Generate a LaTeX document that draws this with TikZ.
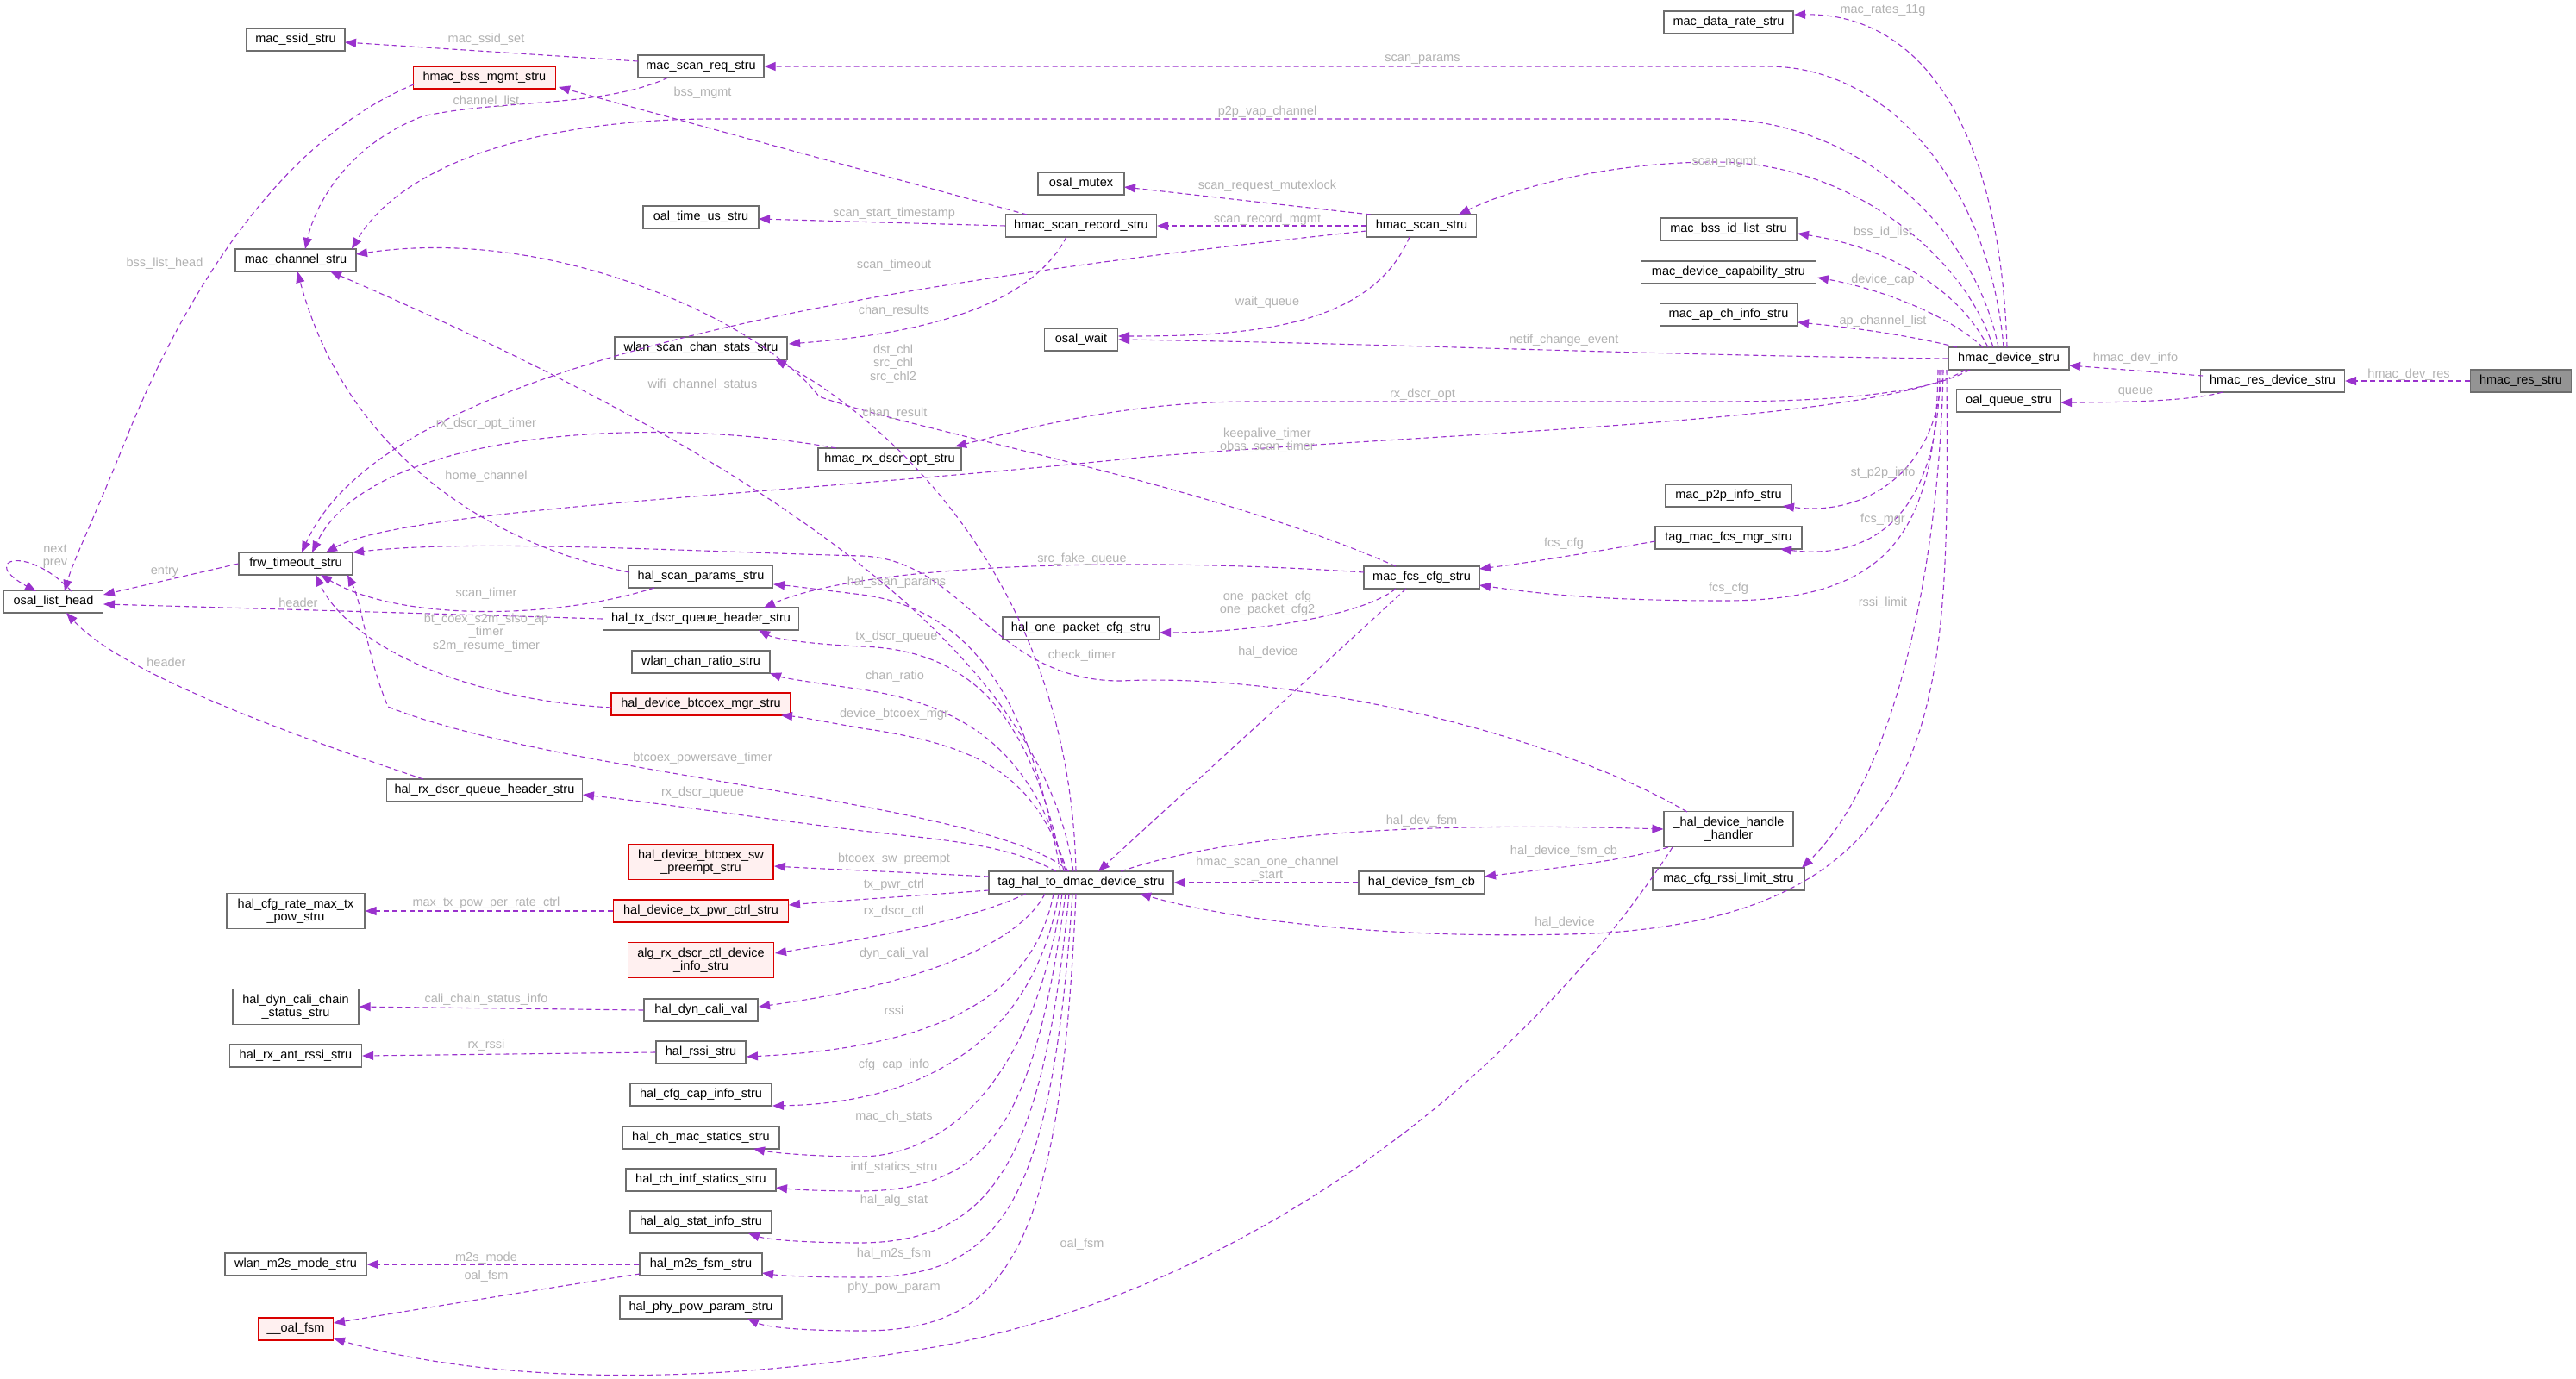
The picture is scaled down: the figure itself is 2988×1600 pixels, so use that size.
\documentclass[tikz,border=0pt]{standalone}
\usepackage{fontspec}
\setmainfont{Liberation Sans}
\usetikzlibrary{arrows.meta}
\definecolor{edgec}{RGB}{154,50,205}
\definecolor{lblc}{RGB}{178,178,178}
\definecolor{bord}{RGB}{110,110,110}
\newcommand\bxf{\fontsize{14.5}{15.5}\selectfont}
\begin{document}
\begin{tikzpicture}[x=1pt,y=-1pt,
 box/.style={draw=bord, fill=white, line width=1.2pt, font=\bxf, minimum height=26pt, inner xsep=6pt, inner ysep=2pt, align=center},
 rbox/.style={box, draw=red!85!black, fill=red!6},
 root/.style={box, fill=black!42},
 e/.style={draw=edgec, line width=1.1pt, dash pattern=on 6pt off 4pt, -{Triangle[length=13pt,width=10pt]}},
 lbl/.style={text=lblc, font=\bxf, inner sep=0pt, align=center}]
\useasboundingbox (0,0) rectangle (2988,1600);
\fill[white] (0,0) rectangle (2988,1600);
% nodes
\node[root,minimum width=117] (res) at (2924,442) {hmac\_res\_stru};
\node[box,minimum width=167] (resdev) at (2636,442) {hmac\_res\_device\_stru};
\node[box,minimum width=140] (hdev) at (2330,416) {hmac\_device\_stru};
\node[box,minimum width=121] (oq) at (2330,465) {oal\_queue\_stru};
\node[box,minimum width=150] (rate) at (2005,26) {mac\_data\_rate\_stru};
\node[box,minimum width=158] (bssid) at (2005,266) {mac\_bss\_id\_list\_stru};
\node[box,minimum width=203] (devcap) at (2005,316) {mac\_device\_capability\_stru};
\node[box,minimum width=159] (apch) at (2005,365) {mac\_ap\_ch\_info\_stru};
\node[box,minimum width=146] (p2p) at (2005,575) {mac\_p2p\_info\_stru};
\node[box,minimum width=170] (fcsmgr) at (2005,624) {tag\_mac\_fcs\_mgr\_stru};
\node[box,minimum width=150,minimum height=41] (handler) at (2005,962) {\_hal\_device\_handle\\\_handler};
\node[box,minimum width=176] (rssilim) at (2005,1020) {mac\_cfg\_rssi\_limit\_stru};
\node[box,minimum width=146] (scanreq) at (813,77) {mac\_scan\_req\_stru};
\node[box,minimum width=114] (ssid) at (343,46) {mac\_ssid\_stru};
\node[rbox,minimum width=165] (bssmgmt) at (562,90) {hmac\_bss\_mgmt\_stru};
\node[box,minimum width=140] (chan) at (343,302) {mac\_channel\_stru};
\node[box,minimum width=100] (mutex) at (1254,213) {osal\_mutex};
\node[box,minimum width=175] (rec) at (1254,262) {hmac\_scan\_record\_stru};
\node[box,minimum width=127] (hscan) at (1649,262) {hmac\_scan\_stru};
\node[box,minimum width=134] (timeus) at (813,252) {oal\_time\_us\_stru};
\node[box,minimum width=85] (wait) at (1254,394) {osal\_wait};
\node[box,minimum width=200] (wscs) at (813,404) {wlan\_scan\_chan\_stats\_stru};
\node[box,minimum width=166] (rxopt) at (1032,533) {hmac\_rx\_dscr\_opt\_stru};
\node[box,minimum width=132] (frw) at (343,654) {frw\_timeout\_stru};
\node[box,minimum width=115] (olh) at (62,698) {osal\_list\_head};
\node[box,minimum width=167] (hsp) at (813,669) {hal\_scan\_params\_stru};
\node[box,minimum width=227] (txq) at (813,718) {hal\_tx\_dscr\_queue\_header\_stru};
\node[box,minimum width=160] (ratio) at (813,768) {wlan\_chan\_ratio\_stru};
\node[rbox,minimum width=208] (btmgr) at (813,817) {hal\_device\_btcoex\_mgr\_stru};
\node[box,minimum width=227] (rxq) at (562,917) {hal\_rx\_dscr\_queue\_header\_stru};
\node[rbox,minimum width=168,minimum height=41] (swp) at (813,1000) {hal\_device\_btcoex\_sw\\\_preempt\_stru};
\node[box,minimum width=160,minimum height=41] (maxtx) at (343,1057) {hal\_cfg\_rate\_max\_tx\\\_pow\_stru};
\node[rbox,minimum width=203] (txpwr) at (813,1057) {hal\_device\_tx\_pwr\_ctrl\_stru};
\node[rbox,minimum width=169,minimum height=41] (algrx) at (813,1114) {alg\_rx\_dscr\_ctl\_device\\\_info\_stru};
\node[box,minimum width=146,minimum height=41] (calich) at (343,1168) {hal\_dyn\_cali\_chain\\\_status\_stru};
\node[box,minimum width=132] (dcv) at (813,1172) {hal\_dyn\_cali\_val};
\node[box,minimum width=153] (antrssi) at (343,1225) {hal\_rx\_ant\_rssi\_stru};
\node[box,minimum width=104] (rssi) at (813,1221) {hal\_rssi\_stru};
\node[box,minimum width=164] (capinfo) at (813,1270) {hal\_cfg\_cap\_info\_stru};
\node[box,minimum width=182] (chmac) at (813,1320) {hal\_ch\_mac\_statics\_stru};
\node[box,minimum width=174] (chintf) at (813,1369) {hal\_ch\_intf\_statics\_stru};
\node[box,minimum width=164] (algstat) at (813,1418) {hal\_alg\_stat\_info\_stru};
\node[box,minimum width=164] (m2smode) at (343,1467) {wlan\_m2s\_mode\_stru};
\node[box,minimum width=142] (m2sfsm) at (813,1467) {hal\_m2s\_fsm\_stru};
\node[box,minimum width=188] (phypow) at (813,1517) {hal\_phy\_pow\_param\_stru};
\node[rbox,minimum width=87] (oalfsm) at (343,1542) {\_\_oal\_fsm};
\node[box,minimum width=134] (fcscfg) at (1649,670) {mac\_fcs\_cfg\_stru};
\node[box,minimum width=182] (onepkt) at (1254,729) {hal\_one\_packet\_cfg\_stru};
\node[box,minimum width=214] (tag) at (1254,1024) {tag\_hal\_to\_dmac\_device\_stru};
\node[box,minimum width=146] (fsmcb) at (1649,1024) {hal\_device\_fsm\_cb};
% edges
\draw[e] (res.west) -- (resdev.east);
\draw[e] ([shift={(-81,-6)}]resdev.center) -- ([shift={(70,8)}]hdev.center);
\draw[e] ([shift={(-58,13)}]resdev.center) .. controls (2540,466) and (2450,467) .. ([shift={(60,2)}]oq.center);
\draw[e] ([shift={(-2,-13)}]hdev.center) .. controls (2320,150) and (2230,15) .. ([shift={(76,-9)}]rate.center);
\draw[e] ([shift={(-6,-13)}]hdev.center) .. controls (2310,230) and (2200,77) .. (2050,77) -- (scanreq.east);
\draw[e] ([shift={(-12,-13)}]hdev.center) .. controls (2290,260) and (2150,138) .. (1990,138) -- (820,138) .. controls (600,140) and (460,200) .. ([shift={(65,-13)}]chan.center);
\draw[e] ([shift={(-18,-13)}]hdev.center) .. controls (2280,300) and (2150,188) .. (1990,188) .. controls (1850,188) and (1740,225) .. ([shift={(43,-13)}]hscan.center);
\draw[e] ([shift={(-24,-13)}]hdev.center) .. controls (2270,330) and (2180,285) .. ([shift={(80,5)}]bssid.center);
\draw[e] ([shift={(-30,-13)}]hdev.center) .. controls (2260,365) and (2180,335) .. ([shift={(103,6)}]devcap.center);
\draw[e] ([shift={(-60,-13)}]hdev.center) .. controls (2220,390) and (2150,380) .. ([shift={(80,9)}]apch.center);
\draw[e] (hdev.west) .. controls (1900,412) and (1600,398) .. (wait.east);
\draw[e] ([shift={(-45,13)}]hdev.center) .. controls (2230,460) and (2100,466) .. (1990,466) -- (1450,466) .. controls (1300,466) and (1180,500) .. ([shift={(76,-15)}]rxopt.center);
\draw[e] ([shift={(-50,13)}]hdev.center) .. controls (2180,490) and (1700,500) .. (1330,530) .. controls (900,575) and (470,590) .. ([shift={(35,-13)}]frw.center);
\draw[e] ([shift={(-78,13)}]hdev.center) .. controls (2250,540) and (2170,600) .. ([shift={(63,12)}]p2p.center);
\draw[e] ([shift={(-80,13)}]hdev.center) .. controls (2250,600) and (2170,650) .. ([shift={(60,13)}]fcsmgr.center);
\draw[e] ([shift={(-82,13)}]hdev.center) .. controls (2245,620) and (2190,697) .. (2000,697) .. controls (1850,697) and (1780,688) .. ([shift={(67,9)}]fcscfg.center);
\draw[e] ([shift={(-76,13)}]hdev.center) .. controls (2250,650) and (2200,900) .. ([shift={(85,-13)}]rssilim.center);
\draw[e] ([shift={(-72,13)}]hdev.center) .. controls (2260,800) and (2270,1060) .. (1850,1083) .. controls (1600,1092) and (1420,1065) .. ([shift={(68,13)}]tag.center);
\draw[e] ([shift={(-85,4)}]fcsmgr.center) .. controls (1850,640) and (1780,652) .. ([shift={(67,-10)}]fcscfg.center);
\draw[e] ([shift={(-59,-13)}]hscan.center) -- ([shift={(50,4)}]mutex.center);
\draw[e] (hscan.west) -- (rec.east);
\draw[e] ([shift={(-14,13)}]hscan.center) .. controls (1590,380) and (1450,390) .. ([shift={(43,-4)}]wait.center);
\draw[e] ([shift={(-64,6)}]hscan.center) .. controls (1000,330) and (450,420) .. ([shift={(7,-13)}]frw.center);
\draw[e] (rec.west) -- ([shift={(67,2)}]timeus.center);
\draw[e] ([shift={(-63,-13)}]rec.center) -- ([shift={(86,11)}]bssmgmt.center);
\draw[e] ([shift={(-17,13)}]rec.center) .. controls (1200,345) and (1100,385) .. ([shift={(102,-5)}]wscs.center);
\draw[e] ([shift={(-82,8)}]bssmgmt.center) .. controls (330,160) and (220,330) .. (150,500) .. controls (110,600) and (85,650) .. ([shift={(13,-12)}]olh.center);
\draw[e] ([shift={(-73,-6)}]scanreq.center) -- ([shift={(57,3)}]ssid.center);
\draw[e] ([shift={(-38,13)}]scanreq.center) .. controls (700,125) and (580,115) .. (490,135) .. controls (400,170) and (365,240) .. ([shift={(11,-13)}]chan.center);
\draw[e] ([shift={(-62,-13)}]rxopt.center) .. controls (750,480) and (430,500) .. ([shift={(19,-13)}]frw.center);
\draw[e] ([shift={(-30,-13)}]fcscfg.center) .. controls (1400,560) and (1060,500) .. (950,460) .. controls (890,380) and (650,260) .. ([shift={(70,-7)}]chan.center);
\draw[e] ([shift={(-67,-6)}]fcscfg.center) .. controls (1300,645) and (1000,655) .. ([shift={(73,-13)}]txq.center);
\draw[e] ([shift={(-30,13)}]fcscfg.center) .. controls (1580,715) and (1450,734) .. ([shift={(91,5)}]onepkt.center);
\draw[e] ([shift={(-18,13)}]fcscfg.center) -- ([shift={(20,-13)}]tag.center);
\draw[e] (frw.west) -- ([shift={(58,-8)}]olh.center);
\draw[e] ([shift={(21,-12)}]olh.center) .. controls (30,630) and (-25,650) .. ([shift={(-20,-12)}]olh.center);
\draw[e] (txq.west) .. controls (500,712) and (300,706) .. ([shift={(58,3)}]olh.center);
\draw[e] ([shift={(-71,-13)}]rxq.center) .. controls (330,850) and (140,780) .. ([shift={(15,13)}]olh.center);
\draw[e] ([shift={(-83,-5)}]hsp.center) .. controls (560,630) and (400,520) .. ([shift={(2,13)}]chan.center);
\draw[e] ([shift={(-54,13)}]hsp.center) .. controls (640,720) and (460,720) .. ([shift={(29,13)}]frw.center);
\draw[e] ([shift={(-104,4)}]btmgr.center) .. controls (520,810) and (400,740) .. ([shift={(23,13)}]frw.center);
\draw[e] ([shift={(-14,-13)}]tag.center) .. controls (1150,930) and (650,900) .. (450,820) .. controls (425,760) and (420,700) .. ([shift={(60,13)}]frw.center);
\draw[e] ([shift={(-9,-13)}]tag.center) .. controls (1210,780) and (950,560) .. ([shift={(40,13)}]chan.center);
\draw[e] ([shift={(-6,-13)}]tag.center) .. controls (1240,650) and (1000,470) .. ([shift={(86,13)}]wscs.center);
\draw[e] ([shift={(-48,-20)}]handler.center) .. controls (1800,850) and (1500,780) .. (1300,790) .. controls (1150,790) and (1120,650) .. (1000,645) .. controls (800,640) and (550,625) .. ([shift={(66,-13)}]frw.center);
\draw[e] ([shift={(-24,-13)}]tag.center) .. controls (1200,850) and (1150,710) .. (1000,690) .. controls (950,684) and (920,680) .. ([shift={(84,9)}]hsp.center);
\draw[e] ([shift={(-20,-13)}]tag.center) .. controls (1200,860) and (1150,755) .. (1000,750) .. controls (950,748) and (900,742) .. ([shift={(67,13)}]txq.center);
\draw[e] ([shift={(-18,-13)}]tag.center) .. controls (1200,880) and (1130,820) .. (1000,800) .. controls (950,793) and (910,787) .. ([shift={(80,13)}]ratio.center);
\draw[e] ([shift={(-16,-13)}]tag.center) .. controls (1200,900) and (1140,865) .. (1000,845) .. controls (960,838) and (930,832) .. ([shift={(93,13)}]btmgr.center);
\draw[e] ([shift={(-29,-13)}]tag.center) .. controls (1170,980) and (1100,975) .. (1000,964) .. controls (850,945) and (750,930) .. ([shift={(114,5)}]rxq.center);
\draw[e] ([shift={(-107,-7)}]tag.center) .. controls (1050,1012) and (950,1008) .. ([shift={(85,5)}]swp.center);
\draw[e] ([shift={(-107,9)}]tag.center) .. controls (1050,1040) and (950,1047) .. ([shift={(102,-7)}]txpwr.center);
\draw[e] ([shift={(-64,13)}]tag.center) .. controls (1120,1070) and (1000,1090) .. ([shift={(86,-8)}]algrx.center);
\draw[e] ([shift={(-42,13)}]tag.center) .. controls (1180,1100) and (1050,1145) .. ([shift={(67,-4)}]dcv.center);
\draw[e] ([shift={(-32,13)}]tag.center) .. controls (1200,1150) and (1100,1215) .. ([shift={(53,5)}]rssi.center);
\draw[e] ([shift={(-26,13)}]tag.center) .. controls (1200,1200) and (1080,1280) .. ([shift={(83,13)}]capinfo.center);
\draw[e] ([shift={(-22,13)}]tag.center) .. controls (1200,1250) and (1100,1340) .. (1000,1342) .. controls (950,1342) and (900,1338) .. ([shift={(61,13)}]chmac.center);
\draw[e] ([shift={(-18,13)}]tag.center) .. controls (1200,1300) and (1150,1380) .. (1000,1382) .. controls (950,1382) and (920,1380) .. ([shift={(87,9)}]chintf.center);
\draw[e] ([shift={(-14,13)}]tag.center) .. controls (1210,1350) and (1150,1440) .. (1000,1442) .. controls (930,1442) and (890,1438) .. ([shift={(55,13)}]algstat.center);
\draw[e] ([shift={(-10,13)}]tag.center) .. controls (1220,1400) and (1160,1482) .. (1000,1482) .. controls (940,1482) and (905,1480) .. ([shift={(71,10)}]m2sfsm.center);
\draw[e] ([shift={(-6,13)}]tag.center) .. controls (1230,1450) and (1170,1544) .. (1000,1544) .. controls (930,1544) and (890,1540) .. ([shift={(54,13)}]phypow.center);
\draw[e] ([shift={(46,-13)}]tag.center) .. controls (1450,960) and (1700,955) .. (handler.west);
\draw[e] ([shift={(-70,21)}]handler.center) .. controls (1880,1000) and (1780,1010) .. ([shift={(73,-7)}]fsmcb.center);
\draw[e] (fsmcb.west) -- (tag.east);
\draw[e] ([shift={(-65,21)}]handler.center) .. controls (1800,1200) and (1500,1480) .. (1100,1560) .. controls (800,1615) and (550,1600) .. ([shift={(44,11)}]oalfsm.center);
\draw[e] (m2sfsm.west) -- (m2smode.east);
\draw[e] ([shift={(-71,11)}]m2sfsm.center) .. controls (600,1500) and (450,1525) .. ([shift={(44,-7)}]oalfsm.center);
\draw[e] (rssi.west) -- (antrssi.east);
\draw[e] (dcv.west) -- (calich.east);
\draw[e] (txpwr.west) -- (maxtx.east);
% labels
\node[lbl] (l1) at (2794,435) {hmac\_dev\_res};
\node[lbl] (l2) at (2477,416) {hmac\_dev\_info};
\node[lbl] (l3) at (2477,455) {queue};
\node[lbl] (l4) at (2184,12) {mac\_rates\_11g};
\node[lbl] (l5) at (1650,69) {scan\_params};
\node[lbl] (l6) at (1470,130) {p2p\_vap\_channel};
\node[lbl] (l7) at (2000,188) {scan\_mgmt};
\node[lbl] (l8) at (2184,270) {bss\_id\_list};
\node[lbl] (l9) at (2184,325) {device\_cap};
\node[lbl] (l10) at (2184,373) {ap\_channel\_list};
\node[lbl] (l11) at (1814,395) {netif\_change\_event};
\node[lbl] (l12) at (1650,458) {rx\_dscr\_opt};
\node[lbl] (l13) at (1470,511) {keepalive\_timer\\obss\_scan\_timer};
\node[lbl] (l14) at (2184,549) {st\_p2p\_info};
\node[lbl] (l15) at (2184,603) {fcs\_mgr};
\node[lbl] (l16) at (2005,683) {fcs\_cfg};
\node[lbl] (l17) at (2184,700) {rssi\_limit};
\node[lbl] (l18) at (1815,1071) {hal\_device};
\node[lbl] (l19) at (1814,631) {fcs\_cfg};
\node[lbl] (l20) at (1470,216) {scan\_request\_mutexlock};
\node[lbl] (l21) at (1470,255) {scan\_record\_mgmt};
\node[lbl] (l22) at (1470,351) {wait\_queue};
\node[lbl] (l23) at (1037,308) {scan\_timeout};
\node[lbl] (l24) at (1037,248) {scan\_start\_timestamp};
\node[lbl] (l25) at (815,108) {bss\_mgmt};
\node[lbl] (l26) at (1037,361) {chan\_results};
\node[lbl] (l27) at (191,306) {bss\_list\_head};
\node[lbl] (l28) at (564,46) {mac\_ssid\_set};
\node[lbl] (l29) at (564,118) {channel\_list};
\node[lbl] (l30) at (564,492) {rx\_dscr\_opt\_timer};
\node[lbl] (l31) at (1036,422) {dst\_chl\\src\_chl\\src\_chl2};
\node[lbl] (l32) at (815,447) {wifi\_channel\_status};
\node[lbl] (l33) at (1038,480) {chan\_result};
\node[lbl] (l34) at (564,553) {home\_channel};
\node[lbl] (l35) at (191,663) {entry};
\node[lbl] (l36) at (64,646) {next\\prev};
\node[lbl] (l37) at (346,699) {header};
\node[lbl] (l38) at (564,689) {scan\_timer};
\node[lbl] (l39) at (564,734) {bt\_coex\_s2m\_siso\_ap\\\_timer\\s2m\_resume\_timer};
\node[lbl] (l40) at (193,768) {header};
\node[lbl] (l41) at (815,880) {btcoex\_powersave\_timer};
\node[lbl] (l42) at (815,920) {rx\_dscr\_queue};
\node[lbl] (l43) at (564,1048) {max\_tx\_pow\_per\_rate\_ctrl};
\node[lbl] (l44) at (1255,649) {src\_fake\_queue};
\node[lbl] (l45) at (1040,676) {hal\_scan\_params};
\node[lbl] (l46) at (1470,700) {one\_packet\_cfg\\one\_packet\_cfg2};
\node[lbl] (l47) at (1040,739) {tx\_dscr\_queue};
\node[lbl] (l48) at (1255,761) {check\_timer};
\node[lbl] (l49) at (1471,757) {hal\_device};
\node[lbl] (l50) at (1038,785) {chan\_ratio};
\node[lbl] (l51) at (1037,829) {device\_btcoex\_mgr};
\node[lbl] (l52) at (1037,997) {btcoex\_sw\_preempt};
\node[lbl] (l53) at (1037,1027) {tx\_pwr\_ctrl};
\node[lbl] (l54) at (1037,1058) {rx\_dscr\_ctl};
\node[lbl] (l55) at (1037,1107) {dyn\_cali\_val};
\node[lbl] (l56) at (1037,1172) {rssi};
\node[lbl] (l57) at (1037,1236) {cfg\_cap\_info};
\node[lbl] (l58) at (1037,1296) {mac\_ch\_stats};
\node[lbl] (l59) at (1037,1355) {intf\_statics\_stru};
\node[lbl] (l60) at (1037,1393) {hal\_alg\_stat};
\node[lbl] (l61) at (1037,1455) {hal\_m2s\_fsm};
\node[lbl] (l62) at (1037,1494) {phy\_pow\_param};
\node[lbl] (l63) at (1255,1444) {oal\_fsm};
\node[lbl] (l64) at (1649,953) {hal\_dev\_fsm};
\node[lbl] (l65) at (1814,988) {hal\_device\_fsm\_cb};
\node[lbl] (l66) at (1470,1008) {hmac\_scan\_one\_channel\\\_start};
\node[lbl] (l67) at (564,1460) {m2s\_mode};
\node[lbl] (l68) at (564,1481) {oal\_fsm};
\node[lbl] (l69) at (564,1213) {rx\_rssi};
\node[lbl] (l70) at (564,1160) {cali\_chain\_status\_info};
\end{tikzpicture}
\end{document}
